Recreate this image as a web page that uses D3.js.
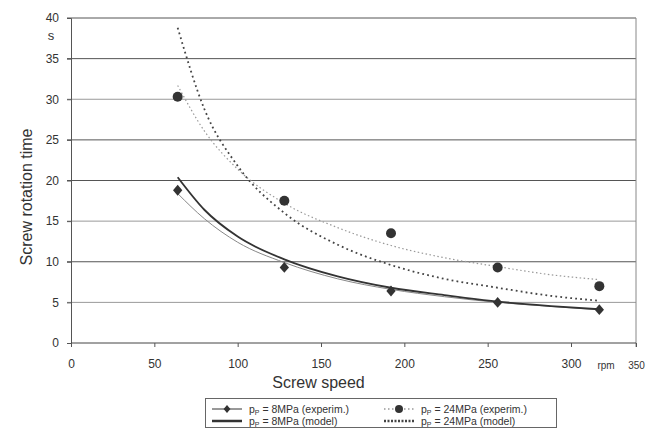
<!DOCTYPE html>
<html>
  <head>
    <meta charset="utf-8">
    <title>Screw rotation time vs screw speed</title>
    <style>
      body { margin: 0; background: #fff; }
      svg text { font-family: "Liberation Sans", Arial, sans-serif; fill: #333; }
      .tick text { font-size: 12px; }
      .axisTitle { font-size: 16px; }
      .legend text { font-size: 10.5px; }
    </style>
  </head>
  <body>
    <svg id="chart" width="654" height="430"></svg>

    <script src="https://cdn.jsdelivr.net/npm/d3@7"></script>
    <script>
      // measured points (rpm, s)
      var speedExp = [64, 128, 192, 256, 317];
      var time8Exp = [18.8, 9.3, 6.4, 5.0, 4.1];
      var time24Exp = [30.3, 17.5, 13.5, 9.3, 7.0];

      // curves at a few speeds
      var speedCurve = [64, 80, 100, 128, 160, 192, 224, 256, 288, 317];
      var time8Model = [20.4, 16.4, 13.1, 10.3, 8.2, 6.8, 5.9, 5.1, 4.55, 4.15];
      var time8Trend = [18.4, 15.3, 12.4, 9.9, 7.9, 6.6, 5.7, 5.0, 4.5, 4.1];
      var time24Model = [38.8, 28.8, 21.8, 16.0, 12.1, 9.6, 7.9, 6.8, 5.8, 5.2];
      var time24Trend = [31.7, 26.1, 21.4, 17.2, 14.2, 12.0, 10.5, 9.4, 8.4, 7.8];

      var xTicks = [0, 50, 100, 150, 200, 250, 300];
      var yTicks = [0, 5, 10, 15, 20, 25, 30, 35, 40];
      var lightGrid = [5, 15, 30];

      var svg = d3.select("#chart");

      var x = d3.scaleLinear().domain([0, 300]).range([71, 571]);
      var y = d3.scaleLinear().domain([0, 40]).range([343, 18]);
      var xEnd = 339;  // right edge of plot, labelled 350 in the original

      // horizontal gridlines
      svg.append("g").selectAll("line")
        .data(yTicks.slice(1))
        .enter().append("line")
        .attr("x1", x(0) - 4).attr("x2", x(xEnd))
        .attr("y1", function(d) { return y(d); })
        .attr("y2", function(d) { return y(d); })
        .attr("stroke", function(d) { return lightGrid.indexOf(d) >= 0 ? "#999" : "#555"; })
        .attr("stroke-width", 1);

      // right frame
      svg.append("line")
        .attr("x1", x(xEnd)).attr("x2", x(xEnd))
        .attr("y1", y(40)).attr("y2", y(0) + 4)
        .attr("stroke", "#888");

      // y axis
      var yAxis = svg.append("g")
        .attr("transform", "translate(" + x(0) + ",0)")
        .call(d3.axisLeft(y).tickValues(yTicks).tickSize(4).tickPadding(8));
      yAxis.select(".domain").attr("stroke", "#555");
      yAxis.selectAll(".tick line").attr("stroke", "#555");

      // x axis
      var xAxis = svg.append("g")
        .attr("transform", "translate(0," + y(0) + ")")
        .call(d3.axisBottom(x).tickValues(xTicks.concat([xEnd])).tickSize(4).tickPadding(12)
          .tickFormat(function(d) { return d === xEnd ? "350" : d; }));
      xAxis.select(".domain").attr("stroke", "#444").attr("d", "M" + x(0) + ",0H" + x(xEnd));
      xAxis.selectAll(".tick line").attr("stroke", "#555");
      xAxis.selectAll(".tick text").filter(function(d) { return d === xEnd; })
        .style("font-size", "10px").attr("dy", "1em");

      svg.append("text")
        .attr("x", x(321)).attr("y", y(0) + 26)
        .attr("text-anchor", "middle")
        .style("font-size", "10px")
        .text("rpm");

      svg.append("text")
        .attr("x", 51).attr("y", y(37.3))
        .attr("text-anchor", "middle")
        .style("font-size", "13px")
        .text("s");

      // axis titles
      svg.append("text")
        .classed("axisTitle", true)
        .attr("x", (x(0) + x(xEnd)) / 2 - 35).attr("y", 388)
        .attr("text-anchor", "middle")
        .text("Screw speed");

      svg.append("text")
        .classed("axisTitle", true)
        .attr("transform", "translate(32,197) rotate(-90)")
        .attr("text-anchor", "middle")
        .text("Screw rotation time");

      // curves
      function curvePath(vals) {
        return d3.line()
          .x(function(d, i) { return x(speedCurve[i]); })
          .y(function(d) { return y(d); })
          .curve(d3.curveMonotoneX)(vals);
      }

      svg.append("path").attr("d", curvePath(time24Trend))
        .attr("fill", "none").attr("stroke", "#999").attr("stroke-width", 1.2)
        .attr("stroke-dasharray", "1.5,2.5");
      svg.append("path").attr("d", curvePath(time24Model))
        .attr("fill", "none").attr("stroke", "#444").attr("stroke-width", 1.8)
        .attr("stroke-dasharray", "1.8,3.2");
      svg.append("path").attr("d", curvePath(time8Trend))
        .attr("fill", "none").attr("stroke", "#888").attr("stroke-width", 1);
      svg.append("path").attr("d", curvePath(time8Model))
        .attr("fill", "none").attr("stroke", "#333").attr("stroke-width", 1.8);

      // markers
      var diamond = d3.symbol().type(d3.symbolSquare).size(48);

      svg.append("g").selectAll("path")
        .data(time8Exp)
        .enter().append("path")
        .attr("d", diamond)
        .attr("transform", function(d, i) {
          return "translate(" + x(speedExp[i]) + "," + y(d) + ") scale(0.95,1.1) rotate(45)";
        })
        .attr("fill", "#333");

      svg.append("g").selectAll("circle")
        .data(time24Exp)
        .enter().append("circle")
        .attr("cx", function(d, i) { return x(speedExp[i]); })
        .attr("cy", function(d) { return y(d); })
        .attr("r", 5)
        .attr("fill", "#333");

      // legend
      var legend = svg.append("g").classed("legend", true);
      legend.append("rect")
        .attr("x", 205.5).attr("y", 398.5).attr("width", 351).attr("height", 29)
        .attr("fill", "#fff").attr("stroke", "#666");

      var legendItems = [
        {col: 0, row: 0, p: "8MPa (experim.)", stroke: "#333", w: 1, dash: null, marker: "diamond"},
        {col: 1, row: 0, p: "24MPa (experim.)", stroke: "#666", w: 1.2, dash: "1.5,2.5", marker: "circle"},
        {col: 0, row: 1, p: "8MPa (model)", stroke: "#333", w: 2.5, dash: null, marker: null},
        {col: 1, row: 1, p: "24MPa (model)", stroke: "#444", w: 2.5, dash: "2,1.5", marker: null}
      ];
      var colX = [212, 384];

      legendItems.forEach(function(it) {
        var lx = colX[it.col], ly = 409 + it.row * 12;
        legend.append("line")
          .attr("x1", lx).attr("x2", lx + 30).attr("y1", ly).attr("y2", ly)
          .attr("stroke", it.stroke).attr("stroke-width", it.w)
          .attr("stroke-dasharray", it.dash);
        if (it.marker === "diamond") {
          legend.append("path").attr("d", diamond)
            .attr("transform", "translate(" + (lx + 15) + "," + ly + ") scale(0.7,0.8) rotate(45)")
            .attr("fill", "#333");
        } else if (it.marker === "circle") {
          legend.append("circle").attr("cx", lx + 15).attr("cy", ly).attr("r", 4).attr("fill", "#333");
        }
        var t = legend.append("text").attr("x", lx + 37).attr("y", ly + 4);
        t.append("tspan").text("p");
        t.append("tspan").attr("dy", 2).style("font-size", "7px").text("P");
        t.append("tspan").attr("dy", -2).text(" = " + it.p);
      });
    </script>
  </body>
</html>
